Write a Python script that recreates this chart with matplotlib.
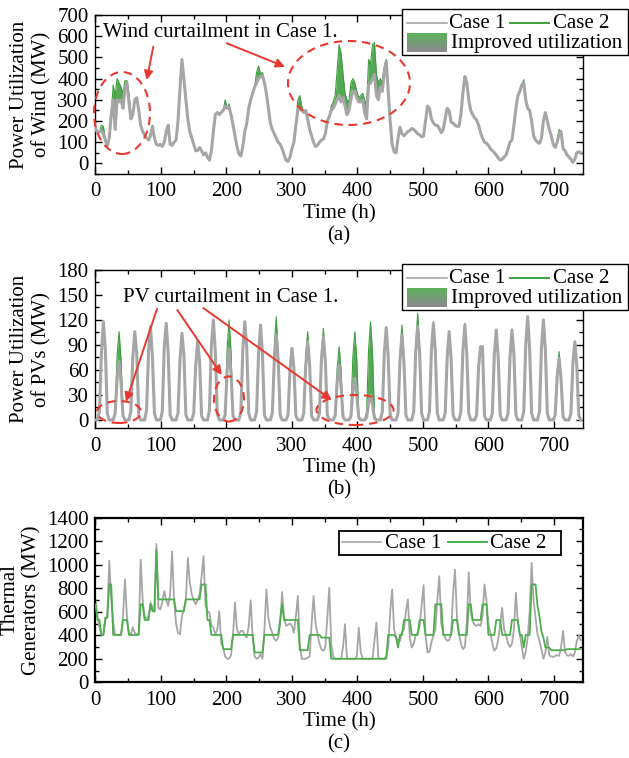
import numpy as np
import matplotlib.pyplot as plt
from matplotlib.patches import Ellipse, Rectangle, FancyArrowPatch
from matplotlib.lines import Line2D
from matplotlib.ticker import MultipleLocator
from matplotlib.colors import to_rgb

plt.rcParams['font.family'] = ['Liberation Serif', 'DejaVu Serif']
plt.rcParams['font.size'] = 15

# 3-hour samples over 31 days (one row = one day)
hours = np.arange(0, 744, 3)

wind_case1 = [
    165, 145, 150, 155, 140, 110, 80, 120,
    230, 300, 160, 300, 290, 300, 260, 360,
    380, 290, 210, 230, 300, 310, 250, 180,
    150, 135, 120, 110, 130, 175, 120, 90,
    85, 90, 80, 100, 150, 180, 90, 85,
    100, 110, 200, 350, 490, 400, 300, 210,
    150, 120, 90, 60, 60, 75, 60, 40,
    50, 30, 15, 60, 150, 230, 240, 230,
    240, 250, 270, 260, 265, 230, 180, 130,
    80, 45, 35, 80, 150, 190, 260, 300,
    330, 360, 380, 400, 410, 415, 380, 330,
    260, 190, 160, 140, 120, 100, 90, 70,
    40, 15, 10, 30, 70, 100, 180, 250,
    260, 250, 240, 250, 210, 160, 130, 100,
    80, 85, 100, 110, 115, 140, 200, 220,
    250, 260, 280, 300, 320, 290, 310, 270,
    230, 250, 300, 340, 340, 310, 290, 290,
    300, 240, 210, 370, 380, 400, 420, 320,
    300, 360, 340, 430, 480, 340, 200, 90,
    55, 50, 120, 170, 140, 130, 140, 150,
    155, 165, 160, 150, 140, 135, 125, 130,
    200, 270, 260, 210, 190, 180, 180, 165,
    145, 160, 210, 260, 250, 195, 190, 180,
    175, 175, 230, 330, 410, 380, 300, 250,
    230, 215, 205, 180, 145, 120, 100, 95,
    85, 70, 60, 50, 40, 25, 15, 20,
    30, 40, 70, 100, 110, 180, 260, 320,
    340, 370, 380, 300, 260, 250, 200, 130,
    110, 100, 95, 120, 200, 240, 200, 160,
    130, 90, 75, 100, 140, 150, 70, 60,
    40, 30, 20, 5, 20, 50, 55, 50,
]

wind_case2 = [
    165, 145, 150, 180, 175, 110, 80, 120,
    230, 370, 320, 400, 380, 360, 330, 390,
    390, 330, 240, 230, 300, 310, 250, 180,
    150, 135, 120, 110, 130, 175, 120, 90,
    85, 90, 80, 100, 150, 180, 90, 85,
    100, 110, 200, 350, 490, 400, 300, 210,
    150, 120, 90, 60, 60, 75, 60, 40,
    50, 30, 15, 60, 150, 230, 240, 230,
    240, 250, 300, 260, 280, 230, 180, 130,
    80, 45, 35, 80, 150, 190, 260, 300,
    330, 360, 430, 460, 420, 430, 380, 330,
    260, 190, 160, 140, 120, 100, 90, 70,
    40, 15, 10, 30, 70, 100, 180, 300,
    320, 270, 240, 250, 210, 160, 130, 100,
    80, 85, 100, 110, 115, 140, 200, 220,
    270, 290, 320, 440, 560, 520, 420, 330,
    300, 290, 380, 400, 380, 340, 310, 320,
    330, 300, 270, 490, 470, 560, 570, 420,
    380, 400, 380, 460, 490, 340, 200, 90,
    55, 50, 120, 170, 140, 130, 140, 150,
    155, 165, 160, 150, 140, 135, 125, 130,
    200, 270, 260, 210, 190, 180, 180, 165,
    145, 160, 210, 260, 250, 195, 190, 180,
    175, 175, 230, 330, 410, 380, 300, 250,
    230, 215, 205, 180, 145, 120, 100, 95,
    85, 70, 60, 50, 40, 25, 15, 20,
    30, 40, 70, 100, 110, 180, 260, 320,
    340, 370, 395, 300, 260, 250, 200, 130,
    110, 100, 95, 120, 200, 240, 200, 160,
    130, 90, 75, 100, 160, 150, 70, 60,
    40, 30, 20, 5, 20, 50, 55, 50,
]

pv_case1 = [
    0, 0, 10, 80, 118, 85, 8, 0,
    0, 0, 8, 50, 70, 45, 5, 0,
    0, 0, 10, 75, 106, 80, 6, 0,
    0, 0, 12, 82, 112, 75, 8, 0,
    0, 0, 10, 88, 116, 80, 6, 0,
    0, 0, 8, 72, 104, 78, 6, 0,
    0, 0, 8, 65, 94, 70, 5, 0,
    0, 0, 12, 90, 120, 82, 8, 0,
    0, 0, 6, 60, 85, 55, 5, 0,
    0, 0, 10, 85, 118, 86, 8, 0,
    0, 0, 10, 80, 114, 78, 6, 0,
    0, 0, 8, 70, 102, 72, 6, 0,
    0, 0, 6, 60, 86, 62, 5, 0,
    0, 0, 8, 65, 94, 66, 5, 0,
    0, 0, 8, 72, 100, 70, 6, 0,
    0, 0, 5, 45, 66, 40, 4, 0,
    0, 0, 4, 35, 50, 30, 3, 0,
    0, 0, 3, 20, 30, 18, 2, 0,
    0, 0, 10, 80, 111, 75, 6, 0,
    0, 0, 8, 72, 102, 70, 6, 0,
    0, 0, 10, 82, 112, 80, 8, 0,
    0, 0, 10, 84, 116, 82, 8, 0,
    0, 0, 8, 75, 106, 74, 6, 0,
    0, 0, 10, 82, 114, 80, 8, 0,
    0, 0, 6, 64, 88, 88, 5, 0,
    0, 0, 8, 78, 108, 75, 6, 0,
    0, 0, 8, 76, 108, 78, 6, 0,
    0, 0, 10, 90, 124, 85, 8, 0,
    0, 0, 10, 86, 120, 84, 8, 0,
    0, 0, 6, 52, 74, 48, 4, 0,
    0, 0, 8, 68, 94, 65, 6, 0,
]

pv_case2 = [
    0, 0, 10, 80, 118, 85, 8, 0,
    0, 0, 10, 78, 106, 72, 6, 0,
    0, 0, 10, 75, 106, 80, 6, 0,
    0, 0, 12, 82, 112, 75, 8, 0,
    0, 0, 10, 88, 116, 80, 6, 0,
    0, 0, 8, 72, 104, 78, 6, 0,
    0, 0, 8, 65, 94, 70, 5, 0,
    0, 0, 12, 90, 120, 82, 8, 0,
    0, 0, 8, 86, 120, 80, 6, 0,
    0, 0, 10, 85, 118, 86, 8, 0,
    0, 0, 10, 80, 114, 78, 6, 0,
    0, 0, 10, 88, 124, 80, 6, 0,
    0, 0, 6, 60, 86, 62, 5, 0,
    0, 0, 8, 75, 106, 70, 5, 0,
    0, 0, 8, 80, 110, 74, 6, 0,
    0, 0, 8, 62, 88, 60, 5, 0,
    0, 0, 8, 76, 106, 72, 6, 0,
    0, 0, 10, 84, 118, 80, 6, 0,
    0, 0, 10, 80, 111, 75, 6, 0,
    0, 0, 8, 80, 114, 76, 6, 0,
    0, 0, 10, 92, 128, 86, 8, 0,
    0, 0, 10, 86, 118, 84, 8, 0,
    0, 0, 8, 75, 106, 74, 6, 0,
    0, 0, 10, 84, 116, 80, 8, 0,
    0, 0, 6, 64, 88, 88, 5, 0,
    0, 0, 8, 78, 108, 75, 6, 0,
    0, 0, 8, 76, 108, 78, 6, 0,
    0, 0, 10, 90, 124, 85, 8, 0,
    0, 0, 10, 86, 120, 84, 8, 0,
    0, 0, 6, 58, 82, 52, 4, 0,
    0, 0, 8, 68, 94, 65, 6, 0,
]

thermal_case1 = [
    700, 560, 470, 403, 403, 530, 560, 1035,
    700, 520, 403, 403, 403, 403, 560, 874,
    560, 420, 403, 470, 420, 403, 420, 1043,
    700, 564, 541, 560, 677, 640, 600, 1176,
    634, 620, 680, 776, 700, 650, 750, 1114,
    700, 500, 420, 409, 560, 630, 700, 1057,
    850, 747, 700, 663, 700, 747, 900, 1072,
    650, 606, 590, 480, 465, 409, 450, 606,
    330, 296, 220, 200, 200, 230, 400, 677,
    450, 409, 437, 437, 400, 380, 480, 697,
    380, 220, 200, 210, 240, 200, 450, 790,
    550, 465, 420, 370, 352, 380, 500, 767,
    550, 480, 490, 500, 480, 420, 560, 733,
    330, 200, 200, 200, 210, 220, 500, 733,
    500, 409, 330, 280, 268, 300, 550, 804,
    320, 220, 200, 200, 200, 200, 300, 494,
    200, 200, 200, 200, 200, 220, 465, 260,
    200, 200, 200, 200, 200, 200, 350, 508,
    210, 200, 200, 200, 220, 300, 600, 790,
    450, 380, 360, 352, 430, 450, 600, 705,
    380, 296, 330, 400, 420, 480, 650, 826,
    400, 254, 260, 340, 400, 450, 700, 902,
    500, 420, 380, 352, 360, 400, 750, 959,
    550, 420, 330, 282, 300, 500, 936, 600,
    520, 490, 480, 494, 480, 560, 832, 700,
    500, 420, 330, 268, 290, 360, 500, 634,
    450, 400, 330, 300, 330, 450, 761, 500,
    409, 300, 200, 260, 380, 600, 1015, 700,
    550, 409, 352, 280, 200, 250, 386, 230,
    220, 215, 225, 230, 225, 300, 437, 260,
    230, 225, 240, 220, 250, 350, 395, 360,
]

thermal_case2 = [
    663, 530, 530, 403, 403, 550, 550, 832,
    832, 403, 403, 403, 403, 403, 530, 530,
    530, 403, 403, 403, 403, 403, 403, 663,
    663, 530, 530, 530, 663, 605, 605, 1128,
    705, 705, 705, 705, 705, 705, 705, 705,
    705, 605, 605, 605, 605, 605, 705, 705,
    705, 705, 705, 705, 705, 705, 832, 832,
    832, 530, 530, 403, 403, 403, 403, 403,
    403, 282, 282, 282, 282, 282, 403, 403,
    403, 403, 403, 403, 403, 403, 403, 403,
    403, 254, 254, 254, 254, 254, 403, 403,
    403, 403, 403, 403, 403, 403, 530, 663,
    530, 530, 530, 530, 530, 530, 530, 530,
    273, 273, 273, 273, 273, 403, 403, 403,
    403, 403, 403, 380, 380, 380, 380, 380,
    200, 200, 200, 200, 200, 200, 200, 200,
    200, 200, 200, 200, 200, 200, 200, 200,
    200, 200, 200, 200, 200, 200, 200, 200,
    200, 200, 200, 200, 200, 403, 403, 403,
    403, 380, 296, 403, 403, 530, 530, 530,
    530, 403, 403, 403, 403, 530, 530, 530,
    403, 403, 403, 403, 403, 663, 663, 663,
    663, 403, 403, 403, 403, 403, 530, 530,
    530, 403, 403, 403, 403, 403, 663, 663,
    530, 530, 530, 530, 530, 663, 663, 663,
    403, 403, 403, 403, 530, 530, 530, 403,
    403, 403, 403, 403, 530, 530, 530, 530,
    403, 403, 296, 403, 403, 403, 832, 832,
    832, 650, 560, 430, 380, 296, 296, 296,
    273, 273, 273, 273, 273, 273, 273, 273,
    282, 282, 282, 282, 282, 282, 282, 282,
]

GRAY = '#a6a6a6'
GREEN = '#55a855'
GREEN_LINE = '#3f9f3f'
RED = '#e8392f'

W, H = 629, 758
fig = plt.figure(figsize=(W / 100, H / 100), dpi=100)
tr = fig.dpi_scale_trans


def box(left, top, right, bottom):
    return [left / W, 1 - bottom / H, (right - left) / W, (bottom - top) / H]


def pt(x, y):
    # pixel position (from top-left) -> inches for dpi_scale_trans
    return (x / 100, (H - y) / 100)


def style(ax, ylim, ymaj, ymin, spine_w):
    ax.set_xlim(0, 744)
    ax.set_ylim(*ylim)
    ax.xaxis.set_major_locator(MultipleLocator(100))
    ax.xaxis.set_minor_locator(MultipleLocator(50))
    ax.yaxis.set_major_locator(MultipleLocator(ymaj))
    ax.yaxis.set_minor_locator(MultipleLocator(ymin))
    ax.tick_params(which='both', direction='in', top=True, right=True, width=1)
    ax.tick_params(which='major', length=5)
    ax.tick_params(which='minor', length=3)
    ax.tick_params(axis='x', pad=6)
    ax.tick_params(axis='y', pad=5)
    for s in ax.spines.values():
        s.set_linewidth(spine_w)


def ellipse(cx, cy, w, h):
    fig.add_artist(Ellipse(pt(cx, cy), w / 100, h / 100, transform=tr, fill=False,
                           edgecolor=RED, lw=1.5, ls=(0, (4, 2.8)), zorder=4))


def arrow(x0, y0, x1, y1):
    fig.add_artist(FancyArrowPatch(pt(x0, y0), pt(x1, y1), transform=tr,
                                   arrowstyle='-|>', mutation_scale=13, color=RED,
                                   lw=1.4, shrinkA=0, shrinkB=0, zorder=4))


def hline(x0, x1, y, color, lw):
    fig.add_artist(Line2D([x0 / 100, x1 / 100], [(H - y) / 100] * 2,
                          transform=tr, color=color, lw=lw, zorder=7))


def label(x, y, s, size=15):
    fig.text(x / 100, (H - y) / 100, s, transform=tr, ha='left', va='baseline',
             fontsize=size, zorder=7)


def frame(x0, y0, x1, y1, lw=1.0):
    fig.add_artist(Rectangle(pt(x0, y1), (x1 - x0) / 100, (y1 - y0) / 100, transform=tr,
                             facecolor='white', edgecolor='black', lw=lw, zorder=6))


def gradient_patch(x0, y0, x1, y1, n=12):
    g, k = np.array(to_rgb('#5cb05c')), np.array(to_rgb('#8a8a8a'))
    step = (y1 - y0) / n
    for i in range(n):
        t = i / (n - 1)
        c = (1 - t) * g + t * k
        fig.add_artist(Rectangle(pt(x0, y0 + (i + 1) * step), (x1 - x0) / 100, step / 100 + 0.002,
                                 transform=tr, facecolor=c, lw=0, zorder=7))


def big_legend(dy):
    frame(402, 9.3 + dy, 627.5, 55 + dy)
    hline(407.3, 446.7, 22.7 + dy, GRAY, 1.2)
    label(449.3, 28.3 + dy, 'Case 1')
    hline(510, 549.3, 22.7 + dy, GREEN_LINE, 1.4)
    label(552.7, 28.3 + dy, 'Case 2')
    gradient_patch(407.3, 33.3 + dy, 446.7, 51.7 + dy)
    label(451, 48.3 + dy, 'Improved utilization')


# (a) wind
ax_a = fig.add_axes(box(95.5, 15, 582.7, 174))
ax_a.fill_between(hours, wind_case1, wind_case2, color=GREEN, lw=0, zorder=1)
ax_a.plot(hours, wind_case2, color=GREEN_LINE, lw=0.8, zorder=2)
ax_a.plot(hours, wind_case1, color=GRAY, lw=2.2, zorder=3)
style(ax_a, (-50, 700), 100, 50, 1.0)
ax_a.set_ylabel('Power Utilization\nof Wind (MW)', labelpad=4)
ax_a.set_xlabel('Time (h)\n(a)', labelpad=2)

# (b) PV
ax_b = fig.add_axes(box(95.5, 270, 582.7, 428.3))
ax_b.fill_between(hours, pv_case1, pv_case2, color=GREEN, lw=0, zorder=1)
ax_b.plot(hours, pv_case2, color=GREEN_LINE, lw=0.8, zorder=2)
ax_b.plot(hours, pv_case1, color=GRAY, lw=2.2, zorder=3)
style(ax_b, (-10, 180), 30, 15, 1.0)
ax_b.set_ylabel('Power Utilization\nof PVs (MW)', labelpad=4)
ax_b.set_xlabel('Time (h)\n(b)', labelpad=2)

# (c) thermal
ax_c = fig.add_axes(box(95.5, 517.7, 582.7, 682.3))
ax_c.plot(hours, thermal_case1, color=GRAY, lw=1.3, zorder=2)
ax_c.plot(hours, thermal_case2, color='#4caf4c', lw=1.3, zorder=3)
style(ax_c, (0, 1400), 200, 100, 1.6)
ax_c.set_ylabel('Thermal\nGenerators (MW)', labelpad=4)
ax_c.set_xlabel('Time (h)\n(c)', labelpad=2)

# annotations (a)
label(102.7, 36.7, 'Wind curtailment in Case 1.')
arrow(153.3, 46.7, 146.7, 80)
arrow(226.7, 43.3, 285, 66.7)
ellipse(122, 113, 56, 82)
ellipse(349, 83, 122, 84)

# annotations (b)
label(123.3, 301.7, 'PV curtailment in Case 1.')
arrow(157, 309, 126, 401.7)
arrow(177.3, 310, 221.7, 375)
arrow(203.3, 308, 331.7, 400)
ellipse(119, 412, 44, 22)
ellipse(229, 399, 30, 45)
ellipse(355, 410, 77, 30)

# legends
big_legend(0)
big_legend(255)
frame(339.3, 531, 560.7, 555, lw=1.3)
hline(342.3, 380.7, 542.3, GRAY, 1.2)
label(385, 548, 'Case 1')
hline(447.7, 486.7, 542.3, '#4caf4c', 1.4)
label(490, 548, 'Case 2')

fig.savefig('out.png', dpi=100)
